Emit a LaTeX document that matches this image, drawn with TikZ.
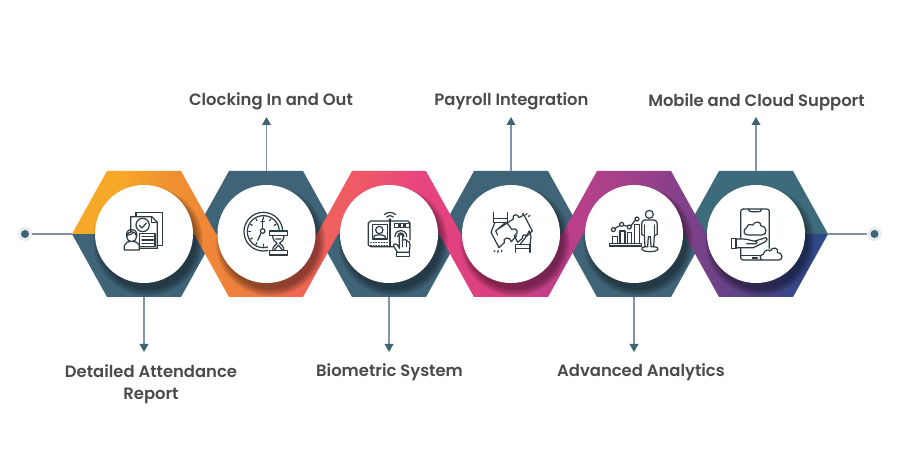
\documentclass[tikz,border=0pt]{standalone}
\usepackage{fontspec}
\setmainfont{Poppins}[UprightFont=* SemiBold]
\usetikzlibrary{arrows.meta}
\definecolor{hexdark}{HTML}{3F6377}
\definecolor{hexteal}{HTML}{3E6B7B}
\definecolor{wire}{HTML}{7F95A5}
\definecolor{labelink}{HTML}{4A4A4A}
\definecolor{iconink}{HTML}{2C3A42}
\pgfdeclarehorizontalshading{ribbonfull}{100bp}{
 rgb(0bp)=(0.976,0.663,0.145);
 rgb(28.2bp)=(0.965,0.659,0.157);
 rgb(31.5bp)=(0.941,0.565,0.188);
 rgb(36.1bp)=(0.933,0.498,0.243);
 rgb(39.4bp)=(0.933,0.416,0.314);
 rgb(44bp)=(0.937,0.345,0.400);
 rgb(48bp)=(0.910,0.271,0.498);
 rgb(53.3bp)=(0.847,0.247,0.502);
 rgb(56bp)=(0.780,0.247,0.533);
 rgb(61.2bp)=(0.651,0.251,0.541);
 rgb(64.6bp)=(0.541,0.251,0.537);
 rgb(69.2bp)=(0.365,0.263,0.533);
 rgb(72.5bp)=(0.227,0.275,0.533);
 rgb(75bp)=(0.176,0.290,0.541);
 rgb(100bp)=(0.176,0.290,0.541)}
\tikzset{
 x=.75pt,y=-.75pt,
 disc/.style={circle,fill=white,minimum size=73.5pt,inner sep=0pt},
 label text/.style={text=labelink,font=\fontsize{12.3pt}{16.5pt}\selectfont,align=center,inner sep=0pt},
 wireline/.style={draw=wire,line width=1.1pt},
 wirearrow/.style={wireline,-{Triangle[width=6.5pt,length=6pt,fill=hexdark,color=hexdark]}},
 ic/.style={draw=iconink,line width=.9pt,line join=round,line cap=round},
 icw/.style={ic,fill=white},
 iconbox/.style={scale=1/3}
}
\begin{document}
\begin{tikzpicture}
\useasboundingbox (0,0) rectangle (900,470);
\fill[white] (0,0) rectangle (900,470);
% dark halves
\fill[hexdark] (72,234)--(107,297)--(181,297)--(216,234)--cycle;
\fill[hexdark] (194,234)--(229,171)--(303,171)--(338,234)--cycle;
\fill[hexdark] (317,234)--(352,297)--(426,297)--(461,234)--cycle;
\fill[hexdark] (439,234)--(474,171)--(548,171)--(583,234)--cycle;
\fill[hexdark] (562,234)--(597,297)--(671,297)--(706,234)--cycle;
\fill[hexteal] (684,234)--(719,171)--(793,171)--(828,234)--cycle;
% ribbon
\shade[shading=ribbonfull] (72,234)--(107,171)--(181,171)--(216,234)--(317,234)--(352,171)--(426,171)--(461,234)--(562,234)--(597,171)--(671,171)--(706,234)--(828,234)--(793,297)--(719,297)--(684,234)--(583,234)--(548,297)--(474,297)--(439,234)--(338,234)--(303,297)--(229,297)--(194,234)--cycle;
% shadows
\foreach \cx in {144,266.5,389,511,634,756}{
 \foreach \r in {55,54,53,52,51,50,49,48}{
  \fill[black,opacity=.06] (\cx+4,234+7) circle[radius=\r];
 }
}
% discs
\node[disc] (c1) at (144,234) {};
\node[disc] (c2) at (266.5,234) {};
\node[disc] (c3) at (389,234) {};
\node[disc] (c4) at (511,234) {};
\node[disc] (c5) at (634,234) {};
\node[disc] (c6) at (756,234) {};
% anchors
\coordinate (lv) at (72,234);
\coordinate (rv) at (828,234);
\coordinate (b1) at (144,297);
\coordinate (t2) at (266.5,171);
\coordinate (b3) at (389,297);
\coordinate (t4) at (511,171);
\coordinate (b5) at (634,297);
\coordinate (t6) at (756,171);
\coordinate (e1) at (144,352);
\coordinate (e2) at (266.5,117);
\coordinate (e3) at (389,352);
\coordinate (e4) at (511,117);
\coordinate (e5) at (634,352);
\coordinate (e6) at (756,117);
% end dots
\node[circle,fill=hexdark!12,minimum size=10.5pt,inner sep=0pt] (dl) at (25,234) {};
\node[circle,fill=hexdark,minimum size=6pt,inner sep=0pt] (dli) at (25,234) {};
\node[circle,fill=hexdark!12,minimum size=10.5pt,inner sep=0pt] (dr) at (874.5,234) {};
\node[circle,fill=hexdark,minimum size=6pt,inner sep=0pt] (dri) at (874.5,234) {};
\draw[wireline] (dl) -- (lv);
\draw[wireline] (rv) -- (dr);
\draw[wirearrow] (b1) -- (e1);
\draw[wirearrow] (t2) -- (e2);
\draw[wirearrow] (b3) -- (e3);
\draw[wirearrow] (t4) -- (e4);
\draw[wirearrow] (b5) -- (e5);
\draw[wirearrow] (t6) -- (e6);
% labels
\node[label text] (l1) at (151,384) {Detailed Attendance\\Report};
\node[label text] (l2) at (271,101) {Clocking In and Out};
\node[label text] (l3) at (389.5,372) {Biometric System};
\node[label text] (l4) at (511.5,101) {Payroll Integration};
\node[label text] (l5) at (641,372) {Advanced Analytics};
\node[label text] (l6) at (756.5,102) {Mobile and Cloud Support};
% icon 1
\begin{scope}[shift={(100,195)},iconbox]
 \draw[ic] (108,65)--(108,52)--(187,52)--(187,152)--(172,152);
 \draw[icw] (92,110)--(92,65)--(155,65)--(172,82)--(172,160)--(118,160);
 \draw[ic] (155,65)--(155,82)--(172,82);
 \draw[ic] (128,90) circle[radius=20];
 \draw[ic] (118,91)--(126,99)--(139,84);
 \draw[icw] (118,115) rectangle (165,155);
 \draw[ic] (126,125)--(160,125) (126,135)--(160,135) (126,145)--(160,145);
 \draw[icw] (73,165)--(73,152)..controls (75,142) and (85,140) ..(95,138)..controls (105,140) and (115,142) .. (118,152)--(118,165)--cycle;
 \draw[icw] (95,125) circle[radius=15];
 \draw[ic] (80,125)..controls (78,110) and (85,103) .. (95,104)..controls (107,104) and (112,112) .. (110,125);
 \draw[ic] (85,120)..controls (92,120) and (98,116) .. (100,112);
\end{scope}
% icon 2
\begin{scope}[shift={(225,195)},iconbox]
 \draw[ic] (115,110) circle[radius=58];
 \draw[ic] (115,110) circle[radius=48];
 \foreach \a in {0,30,...,330}{
  \draw[ic] ({115+44*cos(\a)},{110+44*sin(\a)})--({115+38*cos(\a)},{110+38*sin(\a)});
 }
 \draw[ic] (113,72)--(113,100) (108,80)--(118,80);
 \draw[ic] (108,115)--(98,136);
 \draw[icw] (113,108) circle[radius=7];
 \fill[white] (130,104) rectangle (190,184);
 \draw[ic] (133,108) rectangle (187,122);
 \draw[ic] (133,167) rectangle (187,180);
 \draw[ic] (143,122)..controls (143,135) and (150,140) .. (156,145)..controls (150,150) and (143,155) .. (143,167);
 \draw[ic] (177,122)..controls (177,135) and (170,140) .. (164,145)..controls (170,150) and (177,155) .. (177,167);
 \draw[ic] (152,132)--(168,132) (160,150)--(148,165) (160,150)--(172,165);
\end{scope}
% icon 3
\begin{scope}[shift={(350,195)},iconbox]
 \draw[ic] (130,155)--(62,155)--(55,150)--(55,84)--(62,78)--(174,78)--(180,84)--(180,135);
 \draw[ic] (120,78)--(120,155);
 \draw[ic] (68,89) rectangle (112,132);
 \draw[ic] (88,105) circle[radius=11];
 \draw[ic] (72,130)--(72,124)..controls (76,118) and (100,118) .. (106,124)--(106,130);
 \foreach \x in {62,70,...,110}{\draw[ic] (\x,143)--(\x+2,143);\draw[ic] (\x,151)--(\x+2,151);}
 \draw[ic] (120,75) circle[radius=3];
 \draw[ic] (110,66)..controls (115,60) and (125,60) .. (130,66);
 \draw[ic] (103,59)..controls (112,50) and (128,50) .. (137,59);
 \draw[ic] (133,86) rectangle (145,97);
 \draw[ic] (150,86) rectangle (162,97);
 \draw[ic] (167,86) rectangle (178,97);
 \draw[ic] (135,125)..controls (135,100) and (170,100) .. (170,125);
 \draw[ic] (143,125)..controls (143,110) and (162,110) .. (162,125);
 \draw[icw] (148,160)--(148,122)..controls (148,114) and (158,114) .. (158,122)--(158,135)..controls (166,132) and (170,135) .. (171,138)..controls (178,136) and (180,145) .. (180,150)--(178,172)--(142,172)--(132,155)..controls (128,148) and (136,143) .. (142,150)--(148,158);
 \draw[ic] (158,135)--(158,155) (170,138)--(170,155);
 \draw[ic] (140,172)--(178,172)--(178,185)--(140,185)--cycle;
\end{scope}
% icon 4
\begin{scope}[shift={(475,195)},iconbox]
 \draw[ic] (55,52)--(55,82)--(98,82)--(98,52) (55,70)--(98,70);
 \draw[ic] (60,82)--(48,112)--(72,158)--(88,143)..controls (80,128) and (106,122) .. (109,140)--(125,122);
 \draw[ic] (92,82)--(62,108)--(68,120);
 \draw[ic] (72,100)--(115,72)..controls (108,58) and (130,54) .. (132,68)--(147,60)--(172,108)--(155,124)..controls (150,116) and (140,120) .. (142,130)--(128,142);
 \draw[ic] (97,85)--(110,103)..controls (125,95) and (135,115) .. (118,122)--(128,142);
 \draw[ic] (122,172)--(122,148)--(165,148)--(165,172) (122,160)--(165,160);
 \draw[ic] (165,148)--(168,125)--(163,108)--(150,130)--(135,148);
 \draw[ic] (142,58)--(146,55) (152,60)--(156,56) (160,64)--(165,62);
 \draw[ic] (57,170)--(60,167) (68,172)--(70,167) (80,170)--(80,166);
\end{scope}
% icon 5
\begin{scope}[shift={(595,195)},iconbox]
 \draw[ic] (43,146) rectangle (140,153);
 \draw[ic] (52,146)--(52,125)--(67,125)--(67,146);
 \draw[ic] (75,146)--(75,108)--(90,108)--(90,146);
 \draw[ic] (97,146)--(97,112)--(110,112)--(110,146);
 \draw[ic] (118,146)--(118,88)--(133,88)--(133,146);
 \draw[ic] (60,100)--(74,92) (86,91)--(97,94) (108,92)--(120,76);
 \draw[ic] (55,104) circle[radius=6];
 \draw[ic] (80,88) circle[radius=6];
 \draw[ic] (103,96) circle[radius=6];
 \draw[ic] (126,72) circle[radius=6];
 \draw[ic] (163,58) circle[radius=12];
 \draw[ic] (148,75)--(178,75)..controls (185,76) and (187,82) .. (187,88)--(187,118)--(178,122)--(176,155)--(168,155)--(166,125)--(160,125)--(158,155)--(150,155)--(148,122)--(140,118)--(140,88)..controls (140,82) and (142,76) .. (148,75);
 \draw[ic] (148,90)--(148,118) (178,90)--(178,118);
 \draw[ic] (150,155)..controls (132,158) and (138,170) .. (165,170)..controls (192,170) and (198,158) .. (176,155);
\end{scope}
% icon 6
\begin{scope}[shift={(720,195)},iconbox]
 \draw[ic] (70,42)--(140,42)..controls (146,42) and (148,45) .. (148,50)--(148,160);
 \draw[ic] (62,140)--(62,50)..controls (62,45) and (65,42) .. (70,42);
 \draw[ic] (62,160)--(62,188)..controls (62,192) and (65,195) .. (70,195)--(125,195);
 \draw[ic] (85,42)..controls (87,50) and (90,50) .. (95,50)--(115,50)..controls (120,50) and (123,50) .. (125,42);
 \draw[ic] (62,182)--(125,182) (97,189)--(112,189);
 \draw[icw] (85,120)..controls (70,122) and (68,102) .. (80,98)..controls (82,88) and (92,86) .. (98,90)..controls (105,76) and (125,80) .. (122,92)..controls (140,92) and (145,118) .. (125,120)--cycle;
 \draw[icw] (48,132)--(70,132)..controls (85,132) and (100,140) .. (105,138)--(138,128)..controls (144,130) and (142,136) .. (136,140)--(100,158)--(48,158)--cycle;
 \draw[ic] (80,146)--(108,146)..controls (114,144) and (112,138) .. (105,138);
 \draw[icw] (35,130) rectangle (48,160);
 \draw[icw] (128,195)..controls (118,195) and (118,178) .. (130,178)..controls (132,165) and (145,162) .. (150,168)..controls (158,152) and (178,160) .. (172,172)..controls (188,172) and (192,195) .. (176,195)--cycle;
\end{scope}
\end{tikzpicture}
\end{document}
